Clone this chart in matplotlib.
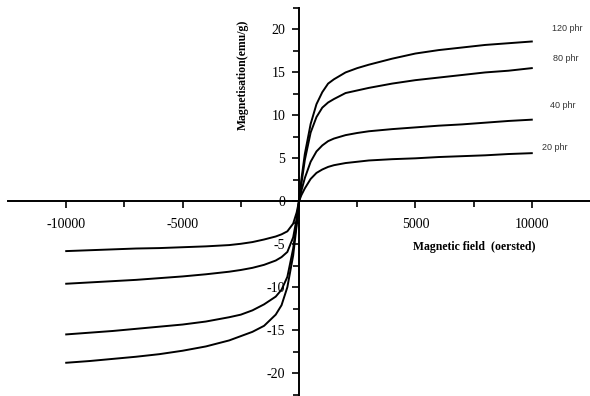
import matplotlib.pyplot as plt
import numpy as np

# field values (oersted) and magnetisation (emu/g)
field_neg = [-10000, -9000, -8000, -7000, -6000, -5000, -4000, -3000, -2500,
             -2000, -1500, -1000, -750, -500, -250, -100, 0]
field_pos = [0, 100, 250, 500, 750, 1000, 1250, 1500, 2000, 2500, 3000,
             4000, 5000, 6000, 7000, 8000, 9000, 10000]

m20_neg = [-5.8, -5.7, -5.6, -5.5, -5.45, -5.35, -5.25, -5.1, -4.95,
           -4.75, -4.45, -4.1, -3.85, -3.5, -2.6, -1.3, 0]
m40_neg = [-9.6, -9.45, -9.3, -9.15, -8.95, -8.75, -8.5, -8.2, -8.0,
           -7.75, -7.4, -6.9, -6.5, -5.9, -4.2, -2.0, 0]
m80_neg = [-15.5, -15.3, -15.1, -14.85, -14.6, -14.35, -14.0, -13.5, -13.2,
           -12.7, -12.0, -11.1, -10.3, -8.8, -5.5, -2.5, 0]
m120_neg = [-18.8, -18.6, -18.35, -18.1, -17.8, -17.4, -16.9, -16.2, -15.7,
            -15.2, -14.5, -13.2, -12.1, -10.0, -6.3, -2.8, 0]

m20_pos = [0, 0.7, 1.5, 2.6, 3.3, 3.7, 4.0, 4.2, 4.45, 4.6, 4.75,
           4.9, 5.0, 5.15, 5.25, 5.35, 5.5, 5.6]
m40_pos = [0, 1.2, 2.7, 4.6, 5.8, 6.5, 7.0, 7.3, 7.7, 7.95, 8.15,
           8.4, 8.6, 8.8, 8.95, 9.15, 9.35, 9.5]
m80_pos = [0, 2.0, 4.8, 8.0, 9.8, 10.9, 11.5, 11.9, 12.6, 12.9, 13.2,
           13.7, 14.1, 14.4, 14.7, 15.0, 15.2, 15.5]
m120_pos = [0, 2.5, 5.5, 9.0, 11.3, 12.7, 13.7, 14.2, 15.0, 15.5, 15.9,
            16.6, 17.2, 17.6, 17.9, 18.2, 18.4, 18.6]

series = {
    "120 phr": (m120_neg, m120_pos),
    "80 phr": (m80_neg, m80_pos),
    "40 phr": (m40_neg, m40_pos),
    "20 phr": (m20_neg, m20_pos),
}
label_pos = {"120 phr": (10860, 20.1), "80 phr": (10900, 16.6),
             "40 phr": (10770, 11.2), "20 phr": (10430, 6.3)}

x_major = [-10000, -5000, 5000, 10000]
y_major = list(range(-20, 21, 5))

plt.rcParams["font.family"] = ["Liberation Serif", "DejaVu Serif"]

fig = plt.figure(figsize=(5.9, 3.96), dpi=100)
ax = fig.add_axes([8 / 590, 0, 1 - 8 / 590, 1 - 8 / 396])

for name, (neg, pos) in series.items():
    x = field_neg + field_pos[1:]
    y = neg + pos[1:]
    ax.plot(x, y, color="black", lw=1.4, solid_joinstyle="round")
    tx, ty = label_pos[name]
    ax.text(tx, ty, name, fontsize=6.5, color="#333333", va="center",
            family=["Liberation Sans", "DejaVu Sans"])

ax.set_xlim(-12500, 12500)
ax.set_ylim(-22.67, 22.44)

ax.spines["left"].set_position(("data", 0))
ax.spines["bottom"].set_position(("data", 0))
ax.spines["right"].set_visible(False)
ax.spines["top"].set_visible(False)
for s in ["left", "bottom"]:
    ax.spines[s].set_linewidth(1.4)

# hyphen minus signs like the original
ax.set_xticks(x_major, [str(v) for v in x_major])
ax.set_xticks([-7500, -2500, 2500, 7500], minor=True)
ax.set_yticks(y_major, [str(v) for v in y_major])
ax.set_yticks(np.arange(-22.5, 22.6, 2.5), minor=True)
ax.tick_params(axis="both", which="both", direction="out", width=1.2,
               labelsize=10)
ax.tick_params(axis="x", which="major", length=5, pad=7)
ax.tick_params(axis="x", which="minor", length=4)
ax.tick_params(axis="y", which="major", length=5, pad=5)
ax.tick_params(axis="y", which="minor", length=4)

fig.text(243 / 590, 1 - 75 / 396, "Magnetisation(emu/g)", rotation=90,
         fontsize=8.5, fontweight="bold", ha="center", va="center")
fig.text(474 / 590, 1 - 247 / 396, "Magnetic field  (oersted)",
         fontsize=8.5, fontweight="bold", ha="center", va="center")

fig.savefig("out.png", dpi=100)
